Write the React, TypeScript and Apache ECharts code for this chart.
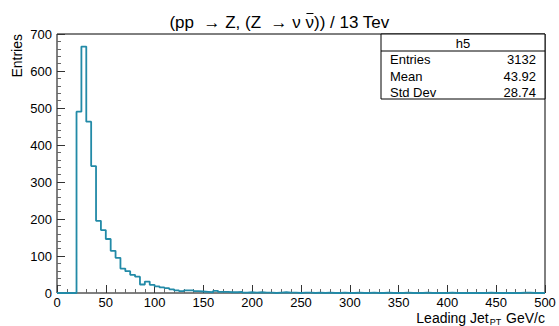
import React, { useEffect, useRef } from "react";
import * as echarts from "echarts";

const binWidth = 5;
const xMin = 0;
const xMax = 500;
const counts: number[] = [
  0, 0, 0, 0, 490, 666, 463, 343, 195, 170,
  146, 114, 95, 66, 59, 49, 44, 23, 31, 22,
  18, 15, 13, 10, 7, 5, 7, 7, 5, 4,
  3, 2, 6, 3, 3, 2, 2, 3, 1, 2,
  1, 2, 1, 1, 0, 1, 2, 1, 1, 0,
  1, 1, 0, 1, 0, 1, 0, 0, 1, 0,
  0, 1, 0, 0, 1, 0, 0, 1, 0, 0,
  0, 1, 0, 0, 0, 1, 0, 0, 0, 0,
  1, 0, 0, 0, 0, 0, 0, 0, 1, 0,
  0, 0, 0, 0, 0, 1, 1, 0, 0, 0,
];
const xTicks = [0, 50, 100, 150, 200, 250, 300, 350, 400, 450, 500];
const yTicks = [0, 100, 200, 300, 400, 500, 600, 700];
const statsLabels = ["Entries", "Mean", "Std Dev"];
const statsValues = ["3132", "43.92", "28.74"];
const histName = "h5";
const titlePrefix = "(pp  \u2192 Z, (Z  \u2192 \u03bd ";
const titleBarred = "\u03bd";
const titleSuffix = ")) / 13 Tev";

const FONT = "'Liberation Sans', Arial, Helvetica, sans-serif";

function measure(text: string, font: string): number {
  const c = document.createElement("canvas").getContext("2d");
  if (!c) return text.length * 8;
  c.font = font;
  return c.measureText(text).width;
}

export default function App() {
  const ref = useRef<HTMLDivElement>(null);
  useEffect(() => {
    if (!ref.current) return;
    const chart = echarts.init(ref.current, null, { renderer: "svg" });
    const pts: [number, number][] = counts.map((c, i) => [xMin + i * binWidth, c]);
    pts.push([xMax, counts[counts.length - 1]]);

    const titleFont = `17px ${FONT}`;
    const fullTitle = titlePrefix + titleBarred + titleSuffix;
    const tW = measure(fullTitle, titleFont);
    const tLeft = 279.5 - tW / 2;
    const preW = measure(titlePrefix, titleFont);
    const nuW = measure(titleBarred, titleFont);

    const boxX = 381, boxY = 34, boxW = 164, boxH = 65;
    const statsGraphics: any[] = [
      { type: "rect", shape: { x: boxX, y: boxY, width: boxW, height: boxH }, style: { fill: "#fff", stroke: "#000", lineWidth: 1 }, z: 10 },
      { type: "line", shape: { x1: boxX, y1: 51, x2: boxX + boxW, y2: 51 }, style: { stroke: "#000", lineWidth: 1 }, z: 11 },
      { type: "text", x: boxX + boxW / 2, y: 43, style: { text: histName, font: `13px ${FONT}`, fill: "#000", textAlign: "center", textVerticalAlign: "middle" }, z: 11 },
    ];
    const rowY = [59.5, 76, 92.5];
    statsLabels.forEach((l, i) => {
      statsGraphics.push({ type: "text", x: 390, y: rowY[i], style: { text: l, font: `13px ${FONT}`, fill: "#000", textAlign: "left", textVerticalAlign: "middle" }, z: 11 });
      statsGraphics.push({ type: "text", x: 536, y: rowY[i], style: { text: statsValues[i], font: `13px ${FONT}`, fill: "#000", textAlign: "right", textVerticalAlign: "middle" }, z: 11 });
    });

    chart.setOption({
      animation: false,
      grid: { left: 57, right: 14, top: 34, bottom: 33, show: true, borderColor: "#000", borderWidth: 1, backgroundColor: "transparent" },
      xAxis: {
        type: "value",
        min: xTicks[0],
        max: xTicks[xTicks.length - 1],
        interval: xTicks[1] - xTicks[0],
        axisLine: { show: false },
        axisTick: { show: true, inside: true, length: 8, lineStyle: { color: "#333" } },
        minorTick: { show: true, splitNumber: 5, length: 4, lineStyle: { color: "#666" } },
        splitLine: { show: false },
        axisLabel: { color: "#000", fontSize: 13, fontFamily: FONT, margin: 3 },
      },
      yAxis: {
        type: "value",
        min: yTicks[0],
        max: yTicks[yTicks.length - 1],
        interval: yTicks[1] - yTicks[0],
        axisLine: { show: false },
        axisTick: { show: true, inside: true, length: 8, lineStyle: { color: "#333" } },
        minorTick: { show: true, splitNumber: 5, length: 4, lineStyle: { color: "#666" } },
        splitLine: { show: false },
        axisLabel: { color: "#000", fontSize: 13, fontFamily: FONT, margin: 5 },
      },
      series: [
        {
          type: "line",
          step: "end",
          data: pts,
          showSymbol: false,
          symbol: "none",
          lineStyle: { color: "#228aa7", width: 1.8 },
          z: 5,
        },
      ],
      graphic: [
        { type: "text", x: tLeft, y: 22, style: { text: fullTitle, font: titleFont, fill: "#000", textAlign: "left", textVerticalAlign: "middle" } },
        { type: "line", shape: { x1: tLeft + preW + 1, y1: 13.5, x2: tLeft + preW + nuW - 0.5, y2: 13.5 }, style: { stroke: "#000", lineWidth: 1 } },
        { type: "text", x: 17, y: 34, rotation: Math.PI / 2, style: { text: "Entries", font: `14px ${FONT}`, fill: "#000", textAlign: "right", textVerticalAlign: "middle" } },
        {
          type: "text",
          x: 545,
          y: 318,
          style: {
            text: "{a|Leading Jet}{s|PT}{a| GeV/c}",
            textAlign: "right",
            textVerticalAlign: "middle",
            rich: {
              a: { fontSize: 14, fontFamily: FONT, color: "#000" },
              s: { fontSize: 9, fontFamily: FONT, color: "#000", padding: [8, 1, 0, 1] },
            },
          },
        },
        ...statsGraphics,
      ],
    });
    return () => chart.dispose();
  }, []);
  return <div ref={ref} style={{ position: "absolute", left: 0, top: 0, width: 559, height: 326 }} />;
}
